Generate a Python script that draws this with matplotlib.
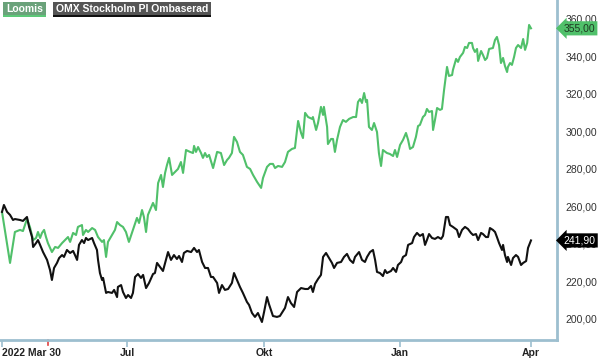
import matplotlib.pyplot as plt
from matplotlib.patches import Rectangle
from matplotlib.ticker import FuncFormatter
from matplotlib.transforms import blended_transform_factory

plt.rcParams['font.family'] = ['Liberation Sans', 'DejaVu Sans']

# trading-day position (0 = 2022 Mar 30) and close values
loomis_day = [0.0, 3.8, 6.1, 8.5, 9.9, 11.8, 13.2, 14.7, 16.1, 17.0,
              18.0, 18.9, 19.9, 20.8, 21.7, 23.6, 25.1, 26.5, 28.4, 29.8,
              31.2, 32.2, 33.6, 35.0, 35.9, 37.8, 38.3, 39.7, 40.7, 42.6,
              44.0, 45.4, 47.3, 48.2, 49.2, 50.1, 52.0, 53.4, 54.4, 55.8,
              57.2, 58.6, 60.0, 61.9, 63.8, 64.8, 66.2, 67.1, 68.1, 69.0,
              70.4, 71.4, 72.8, 73.8, 75.2, 76.1, 77.1, 78.0, 79.0, 80.4,
              81.8, 83.2, 84.6, 85.6, 87.0, 88.9, 90.3, 90.8, 91.7, 92.7,
              94.1, 95.0, 96.0, 96.9, 97.9, 99.8, 101.7, 103.5, 105.0, 106.4,
              107.3, 108.7, 109.7, 111.1, 112.5, 113.9, 115.8, 117.3, 118.7, 120.6,
              122.5, 123.4, 125.3, 126.7, 128.1, 129.1, 130.5, 132.4, 133.8, 135.2,
              137.1, 138.5, 140.0, 141.4, 142.3, 143.3, 144.7, 146.6, 147.0, 148.5,
              149.4, 150.8, 151.8, 152.2, 153.7, 154.1, 155.6, 156.5, 157.4, 158.4,
              159.8, 161.2, 162.6, 164.1, 166.0, 167.4, 168.3, 169.3, 170.2, 171.2,
              172.1, 172.6, 173.5, 174.9, 175.9, 177.3, 178.2, 179.2, 180.1, 182.0,
              183.4, 184.9, 185.8, 186.8, 188.2, 189.6, 191.0, 192.0, 192.9, 194.3,
              195.7, 196.7, 197.6, 199.0, 200.0, 200.9, 201.9, 203.3, 203.8, 204.7,
              205.7, 207.1, 208.0, 209.0, 210.4, 211.3, 212.8, 213.2, 214.7, 215.6,
              216.5, 218.0, 218.9, 219.9, 220.8, 222.2, 222.7, 223.6, 224.6, 225.1,
              226.5, 227.4, 228.4, 229.3, 230.3, 232.1, 233.1, 234.0, 235.0, 235.9,
              236.9, 237.8, 238.8, 239.2, 240.2, 241.1, 242.1, 243.0, 244.0, 245.4,
              246.4, 247.3, 248.3, 249.2, 250.1]
loomis = [257.1, 229.9, 246.4, 247.5, 246.9, 253.3, 249.1, 242.1, 243.2, 246.4,
          243.2, 245.9, 247.5, 243.7, 240.5, 235.7, 238.4, 237.9, 240.5, 242.1,
          243.7, 241.1, 245.9, 244.8, 249.1, 250.1, 244.8, 247.5, 246.4, 248.5,
          247.5, 243.7, 241.1, 242.1, 233.1, 241.1, 244.8, 247.5, 251.7, 250.1,
          249.1, 246.4, 241.1, 247.5, 253.9, 251.2, 258.1, 254.4, 246.4, 255.5,
          259.2, 261.9, 258.1, 272.5, 276.8, 270.4, 277.9, 282.1, 285.9, 276.8,
          278.4, 280.0, 283.7, 277.9, 290.1, 289.1, 288.5, 292.3, 289.1, 291.7,
          288.5, 285.9, 288.5, 286.4, 287.5, 280.5, 289.1, 288.5, 282.1, 284.8,
          285.9, 288.5, 297.1, 294.4, 289.1, 287.5, 281.1, 280.0, 276.8, 273.1,
          269.9, 275.2, 281.1, 282.7, 282.7, 280.5, 281.6, 281.1, 283.7, 289.1,
          290.7, 291.2, 305.6, 299.2, 296.5, 309.9, 307.7, 306.7, 307.7, 300.8,
          304.5, 313.1, 308.8, 313.1, 302.4, 293.3, 296.0, 296.0, 289.1, 295.5,
          302.4, 306.1, 305.1, 306.7, 307.7, 307.7, 315.7, 317.3, 315.2, 320.5,
          315.7, 316.8, 302.4, 300.8, 304.5, 299.7, 288.5, 281.6, 290.1, 288.5,
          288.0, 286.9, 290.1, 286.4, 292.8, 295.5, 299.2, 295.5, 290.7, 291.7,
          297.1, 302.9, 303.5, 307.7, 308.8, 312.0, 310.4, 310.9, 300.8, 306.1,
          312.5, 311.5, 312.0, 322.1, 334.4, 329.6, 330.1, 332.8, 338.7, 337.1,
          339.7, 341.9, 345.1, 344.5, 347.2, 347.2, 344.5, 342.4, 344.0, 337.6,
          342.9, 340.8, 338.1, 339.2, 344.0, 344.5, 348.8, 350.4, 346.1, 336.5,
          339.2, 334.9, 331.7, 334.4, 336.5, 335.5, 339.7, 344.5, 346.1, 344.5,
          349.3, 343.5, 347.2, 356.8, 355.0]

omx_day = [0.0, 0.9, 2.4, 3.8, 5.2, 6.1, 8.5, 9.9, 11.8, 12.8,
           14.2, 14.7, 16.1, 17.0, 18.0, 19.4, 21.3, 22.7, 23.6, 24.6,
           26.0, 27.0, 28.4, 29.3, 30.7, 32.2, 33.6, 34.5, 35.5, 36.4,
           37.8, 38.8, 39.7, 40.7, 42.6, 43.5, 44.9, 45.4, 46.3, 47.3,
           47.8, 49.2, 50.1, 52.0, 53.0, 54.4, 54.8, 56.3, 57.2, 58.6,
           59.6, 61.0, 61.9, 62.9, 64.3, 65.7, 66.7, 68.1, 69.5, 71.4,
           72.3, 73.3, 74.7, 76.1, 77.5, 78.5, 79.9, 81.3, 82.7, 83.7,
           85.1, 86.0, 87.5, 89.4, 90.8, 92.2, 93.1, 94.6, 96.0, 97.4,
           98.8, 99.8, 101.7, 102.6, 104.0, 105.4, 106.9, 108.7, 109.7, 111.1,
           112.5, 113.9, 115.8, 116.8, 118.2, 119.6, 121.0, 122.9, 123.9, 125.3,
           126.2, 128.1, 130.0, 131.4, 133.8, 135.2, 136.6, 138.1, 139.5, 141.4,
           143.3, 144.7, 146.1, 147.0, 148.0, 149.4, 150.8, 151.8, 153.2, 154.6,
           156.0, 157.0, 158.4, 160.3, 161.7, 163.1, 164.5, 166.0, 166.9, 168.8,
           170.2, 171.6, 172.6, 174.0, 175.4, 176.4, 177.3, 178.7, 180.1, 181.1,
           182.0, 183.9, 184.9, 186.3, 187.2, 188.7, 189.6, 191.0, 192.0, 193.9,
           194.8, 196.2, 197.6, 199.0, 200.0, 200.9, 201.9, 203.3, 204.7, 206.1,
           207.6, 208.5, 209.9, 210.9, 211.8, 213.2, 215.1, 216.1, 217.5, 218.9,
           220.3, 221.7, 222.7, 224.1, 225.1, 226.5, 227.4, 228.8, 229.8, 230.7,
           232.1, 233.1, 234.0, 235.0, 236.4, 236.9, 237.8, 238.8, 239.2, 240.7,
           241.6, 243.0, 244.0, 245.4, 246.4, 247.8, 248.7, 250.1]
omx = [257.1, 260.8, 257.1, 255.5, 252.8, 253.3, 252.8, 252.3, 254.4, 249.1,
       243.7, 238.4, 240.5, 242.1, 239.5, 235.7, 231.5, 226.1, 220.8, 227.2,
       229.9, 232.5, 234.1, 233.1, 236.8, 235.2, 236.3, 234.1, 231.5, 239.5,
       242.1, 240.5, 243.2, 242.1, 243.2, 240.5, 236.8, 231.5, 224.5, 220.8,
       221.9, 213.9, 214.4, 213.9, 215.5, 211.7, 217.1, 218.1, 214.4, 211.2,
       212.8, 211.2, 213.9, 222.4, 224.0, 221.9, 223.5, 216.5, 219.2, 224.0,
       224.5, 229.9, 227.7, 225.6, 231.5, 235.7, 231.5, 234.1, 232.0, 233.6,
       230.4, 235.2, 236.3, 235.7, 237.9, 235.7, 236.8, 230.4, 227.2, 227.2,
       222.4, 222.4, 219.2, 213.9, 218.1, 215.5, 216.0, 219.2, 224.5, 220.8,
       217.1, 213.9, 209.1, 207.5, 203.2, 201.1, 203.2, 198.4, 203.7, 211.7,
       208.0, 201.6, 201.1, 201.6, 205.9, 211.7, 208.5, 206.4, 214.4, 216.5,
       216.0, 216.0, 217.6, 214.4, 218.7, 221.3, 223.5, 233.1, 235.2, 232.5,
       229.9, 227.2, 229.9, 230.4, 233.1, 234.7, 231.5, 229.9, 233.1, 235.7,
       231.5, 230.4, 233.1, 235.7, 236.8, 231.5, 225.1, 224.5, 222.9, 226.1,
       224.5, 225.6, 227.2, 225.1, 228.8, 230.4, 233.1, 234.1, 239.5, 240.5,
       243.7, 245.9, 244.3, 245.3, 239.5, 242.1, 245.3, 243.2, 242.7, 243.7,
       242.7, 244.3, 254.4, 254.4, 250.1, 249.1, 247.5, 243.7, 247.5, 249.1,
       248.0, 245.9, 244.8, 245.3, 242.1, 245.9, 245.3, 243.7, 243.7, 248.5,
       247.5, 246.4, 243.7, 240.5, 236.8, 239.5, 234.1, 230.4, 233.1, 228.8,
       232.5, 234.1, 233.1, 228.8, 229.9, 230.9, 237.9, 241.9]

tick_days = [0.0, 59.1, 123.9, 188.2, 250.1]
tick_labels = ['2022 Mar 30', 'Jul', 'Okt', 'Jan', 'Apr']
marker_day = 21.6
y_ticks = [200, 220, 240, 260, 280, 300, 320, 340, 360]

green = '#50c06a'
spine_col = '#9dbfcf'

fig = plt.figure(figsize=(6, 3.59), dpi=100)
ax = fig.add_axes([0.0, 19 / 359, 557 / 600, 340 / 359])

ax.plot(loomis_day, loomis, color=green, lw=1.5, zorder=3)
ax.plot(omx_day, omx, color='#111111', lw=1.5, zorder=3)

ax.set_xlim(-0.95, 262.4)
ax.set_ylim(188.8, 370.1)

for s in ['left', 'top']:
    ax.spines[s].set_visible(False)
for s in ['right', 'bottom']:
    ax.spines[s].set_color(spine_col)
    ax.spines[s].set_linewidth(2)

ax.yaxis.tick_right()
ax.set_yticks(y_ticks)
ax.yaxis.set_major_formatter(FuncFormatter(lambda v, p: f'{v:.2f}'.replace('.', ',')))
ax.tick_params(axis='y', length=0, pad=6, labelsize=7.5, labelcolor='#333333')

ax.set_xticks(tick_days)
ax.set_xticklabels(tick_labels, fontweight='bold', fontsize=7.5, color='#222222')
ax.tick_params(axis='x', length=5, width=1.2, color=spine_col, pad=1)
ax.get_xticklabels()[0].set_horizontalalignment('left')

# red marker tick on the date axis
ax.plot([marker_day, marker_day], [0, -0.016], transform=blended_transform_factory(ax.transData, ax.transAxes),
        color='#e04040', lw=1.2, clip_on=False)

# last-value tags on the right
tr = blended_transform_factory(ax.transAxes, ax.transData)
ax.text(1.012, loomis[-1], '355,00', transform=tr, fontsize=7.5, color='#1e3a22', va='center', ha='left',
        bbox=dict(boxstyle='larrow,pad=0.2', fc=green, ec='none'), zorder=5, clip_on=False)
ax.text(1.012, omx[-1], '241,90', transform=tr, fontsize=7.5, color='white', va='center', ha='left',
        bbox=dict(boxstyle='larrow,pad=0.2', fc='black', ec='none'), zorder=5, clip_on=False)

# legend boxes at the top left
W, H = 600, 359
def legend_box(x0, x1, label, fill, edge):
    fig.add_artist(Rectangle((x0 / W, 1 - 17 / H), (x1 - x0) / W, 15 / H, transform=fig.transFigure,
                             fc=fill, ec='none'))
    fig.add_artist(Rectangle((x0 / W, 1 - 17 / H), (x1 - x0) / W, 2 / H, transform=fig.transFigure,
                             fc=edge, ec='none'))
    fig.text((x0 + x1) / 2 / W, 1 - 9.5 / H, label, color='white', fontsize=7.5, fontweight='bold',
             ha='center', va='center')

legend_box(3, 46, 'Loomis', '#6aa27a', '#5cc878')
legend_box(53, 211, 'OMX Stockholm PI Ombaserad', '#555555', '#111111')

fig.savefig('out.png', dpi=100)
